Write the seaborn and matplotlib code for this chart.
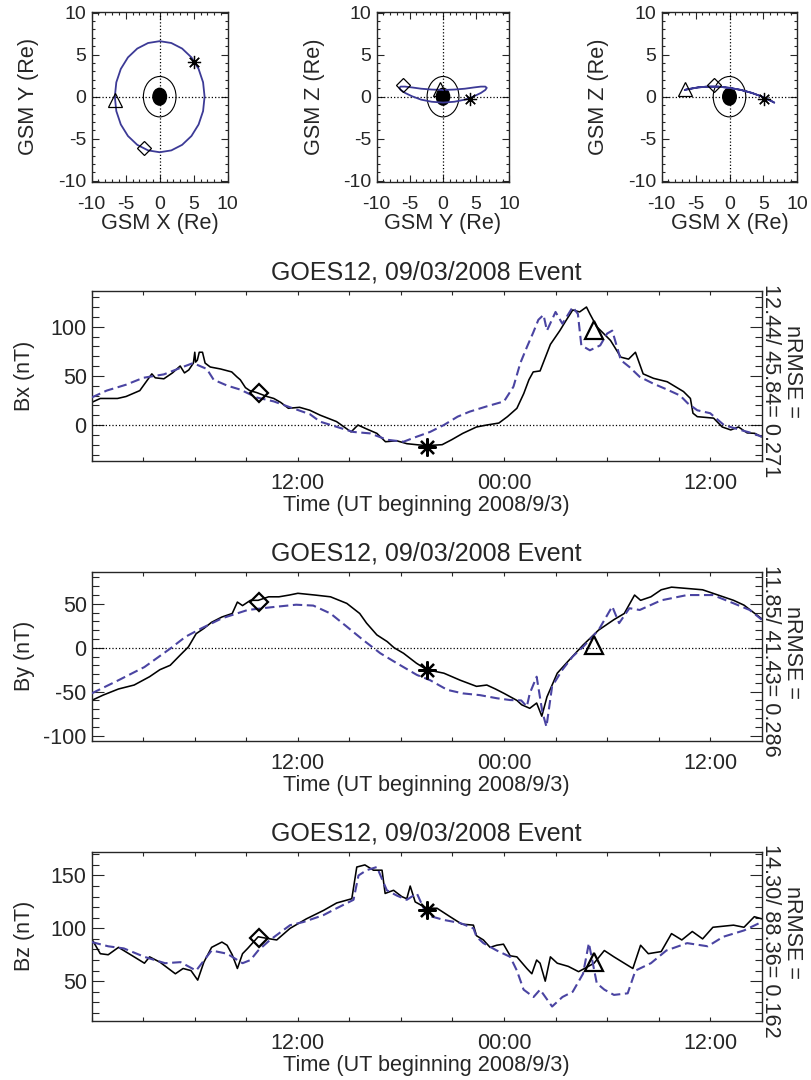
import matplotlib
matplotlib.use("Agg")
import matplotlib.pyplot as plt
from matplotlib.patches import Ellipse
from matplotlib.ticker import FixedLocator, MultipleLocator, FixedFormatter
import seaborn as sns

# ---------------- data ----------------
# GOES-12 orbit (GSM, Re), one loop
orbit_x = [-6.60, -6.38, -5.72, -4.67, -3.30, -1.71, 0.00, 1.71, 3.30, 4.67, 5.72, 6.38, 6.60,
           6.38, 5.72, 4.67, 3.30, 1.71, 0.00, -1.71, -3.30, -4.67, -5.72, -6.38, -6.60]
orbit_y = [0.00, -1.71, -3.30, -4.67, -5.72, -6.38, -6.60, -6.38, -5.72, -4.67, -3.30, -1.71, 0.00,
           1.71, 3.30, 4.67, 5.72, 6.38, 6.60, 6.38, 5.72, 4.67, 3.30, 1.71, 0.00]
orbit_z = [0.80, 0.85, 0.95, 1.10, 1.20, 1.20, 1.05, 0.80, 0.45, 0.05, -0.35, -0.60, -0.70,
           -0.60, -0.35, 0.05, 0.45, 0.80, 1.05, 1.20, 1.20, 1.10, 0.95, 0.85, 0.80]
earth_radius = 1.0
ring_radius = 2.4

# marker positions (diamond, asterisk, triangle)
mark_x = [-2.35, 5.1, -6.5]
mark_y = [-6.1, 4.1, -0.4]
mark_z = [1.4, -0.25, 0.9]
mark_t = [9.75, 19.5, 29.25]

# Bx
bx_obs_t = [0, 0.5, 1.5, 2.0, 2.8, 3.5, 3.7, 4.2, 4.7, 5.15, 5.4, 5.65, 5.92, 6.0, 6.05, 6.15, 6.26,
            6.45, 6.6, 6.9, 7.5, 8.15, 8.45, 8.65, 8.95, 9.2, 9.6, 10.2, 10.6, 11.0, 11.45, 12.1,
            12.7, 13.3, 14.25, 15.1, 15.5, 16.0, 16.6, 17.1, 17.75, 18.35, 18.9, 19.5, 20.4, 20.95,
            21.6, 22.4, 23.0, 23.7, 24.2, 24.75, 25.15, 25.45, 25.7, 26.1, 26.7, 27.25, 27.6, 28.0,
            28.4, 28.8, 29.0, 29.4, 30.2, 30.8, 31.25, 31.65, 32.1, 32.7, 33.5, 34.45, 34.85, 35.0,
            35.25, 36.2, 36.7, 37.2, 37.65, 38.15, 38.6, 39.0]
bx_obs = [23, 27, 27, 29, 35, 52, 48, 47, 53, 60, 53, 56, 63, 74, 64, 66, 74,
          74, 63, 59, 57, 54, 49, 46, 38, 35, 33, 29, 27, 23, 17, 18,
          15, 10, 3.5, -7, 0, -4, -8.5, -17, -16, -19, -20, -21, -20, -15,
          -8.5, -2, 0, 2, 8.5, 17, 32, 46, 54, 55, 82, 96, 106, 117,
          115, 120, 113, 100, 86, 69, 67, 74, 52, 47.5, 44, 34, 27, 12,
          8.5, 7, -2, -5, -2, -8, -8.5, -12]
bx_mod_t = [0, 0.87, 2.0, 3.0, 4.2, 5.15, 5.9, 6.7, 7.1, 7.9, 8.65, 9.6, 10.6, 11.55, 12.7, 13.3,
            15.2, 16.2, 17.2, 18.15, 18.9, 19.7, 20.5, 21.3, 22.0, 23.0, 24.0, 24.55, 24.95, 25.35,
            25.7, 26.0, 26.3, 26.5, 27.0, 27.4, 28.0, 28.3, 28.5, 29.0, 29.6, 30.0, 30.3, 30.8,
            31.3, 31.9, 32.7, 33.5, 34.25, 34.7, 35.25, 36.0, 36.8, 37.75, 38.5, 39.0]
bx_mod = [28, 35, 41, 48, 51.5, 58, 63, 57, 46, 40, 36, 28, 24, 18, 11, 3.4,
          -7, -8.5, -15, -17, -12, -7, 0, 8.5, 13.6, 19, 24, 39, 63, 80,
          94, 107, 112, 96, 115, 103, 120, 113, 81, 76, 81, 93, 96, 66,
          59, 49, 42, 36, 30, 22, 15, 12, 0, -5, -8.5, -12]
bx_marks = [33, -22, 97]

# By
by_obs_t = [0, 0.66, 1.56, 2.47, 3.37, 3.97, 4.57, 5.17, 5.63, 6.08, 6.53, 6.98, 7.58, 8.18, 8.48,
            8.78, 9.24, 9.69, 10.3, 10.9, 11.5, 12.0, 12.5, 13.0, 13.9, 14.85, 15.6, 16.0, 16.6,
            17.2, 17.6, 18.15, 18.9, 19.5, 20.5, 21.45, 22.4, 23.0, 23.5, 24.0, 24.75, 25.03, 25.5,
            25.9, 26.2, 26.5, 27.1, 27.7, 28.6, 29.5, 30.4, 31.0, 31.6, 31.95, 32.55, 33.15, 33.75,
            34.66, 35.56, 36.46, 37.36, 37.97, 39.0]
by_obs = [-60, -54, -47, -42.5, -33, -25, -20, -8, 1, 16, 22, 29, 35, 39, 52,
          48, 54, 54, 58, 58, 60, 62, 61, 60, 58, 50.5, 39, 28, 14.6,
          7, 0, -6.3, -17.6, -25, -29, -37, -44, -42.5, -47, -52, -60, -65, -69,
          -63, -78, -56, -29, -16, 3, 20, 32, 39, 60, 54, 58, 66, 69,
          67.5, 66, 60, 54, 48.5, 33]
by_mod_t = [0, 1.56, 3.07, 4.57, 5.47, 6.38, 7.58, 9.08, 10.4, 11.9, 12.9, 13.9, 14.85, 15.8, 16.8,
            17.76, 18.93, 19.7, 20.7, 21.6, 22.6, 23.6, 24.36, 25.0, 25.33, 25.5, 25.9, 26.23,
            26.47, 26.8, 27.4, 28.0, 28.6, 29.5, 30.3, 30.7, 31.3, 31.9, 33.15, 34.66, 36.16,
            37.36, 38.3, 39.0]
by_mod = [-52, -37, -22, -1, 12.6, 22, 33.5, 43, 46, 49, 48, 39, 24, 8.8, -6.3,
          -17.6, -31, -37, -48, -52, -54, -57.6, -59.6, -60, -67, -52, -33, -73,
          -90, -44, -25, -10, 1, 20, 47, 28, 45, 43, 54, 60, 60,
          50.6, 43, 32]
by_marks = [52.4, -25, 3]

# Bz
bz_obs_t = [0, 0.5, 0.96, 1.56, 2.47, 3.07, 3.37, 3.97, 4.87, 5.32, 5.78, 6.17, 6.53, 6.98, 7.58,
            7.88, 8.18, 8.48, 8.78, 9.08, 9.69, 10.38, 10.77, 11.55, 12.5, 13.5, 14.26, 15.14,
            15.43, 15.9, 16.4, 16.9, 17.08, 17.57, 18.05, 18.34, 18.54, 18.83, 19.5, 20.1, 20.86,
            21.54, 22.22, 22.4, 22.8, 23.19, 23.58, 23.97, 24.36, 24.75, 25.33, 25.62, 25.9, 26.1,
            26.4, 26.7, 27.1, 27.74, 28.34, 28.8, 29.24, 29.84, 30.4, 31.0, 31.5, 31.95, 32.4,
            33.15, 33.75, 34.35, 34.96, 35.56, 36.16, 37.36, 37.97, 38.57, 39.0]
bz_obs = [90, 76, 75, 82, 73, 67, 73, 68, 57, 62, 60, 51, 68, 82, 87,
          84, 75, 62, 76, 81, 92, 90, 89, 100, 109, 117, 124, 128,
          158, 160, 155, 155, 133, 136, 130, 128, 140, 125, 119, 119, 111,
          104, 103, 93, 89, 82, 84, 85, 74, 73, 62, 57, 70, 67,
          50, 73, 67, 64, 59, 63, 67, 79, 73, 67, 62, 84, 76,
          78, 95, 89, 97, 90, 101, 103, 101, 111, 109]
bz_mod_t = [0, 0.96, 1.87, 3.07, 4.27, 5.17, 6.08, 6.98, 7.88, 8.78, 9.24, 9.69, 10.38, 11.55,
            12.33, 13.49, 14.26, 15.24, 15.53, 16.0, 16.6, 17.18, 17.76, 18.34, 18.93, 19.5,
            20.48, 21.45, 22.22, 22.4, 22.8, 23.58, 24.36, 24.75, 25.14, 25.72, 26.1, 26.8, 27.4,
            28.0, 28.6, 28.94, 29.4, 29.84, 30.4, 31.2, 31.65, 32.55, 33.45, 34.66, 35.86, 36.76,
            37.97, 39.0]
bz_mod = [87, 83, 81, 73, 67, 68, 60, 79, 76, 67, 70, 79, 89, 103,
          106, 112.5, 119, 127, 150, 155, 158, 136, 131, 127, 133, 112.5,
          108, 105, 100, 92, 86, 79, 73, 60, 42, 35, 42, 26, 35,
          40, 57, 86, 48, 42, 37, 38.5, 60, 67, 79, 86, 83, 92,
          98, 106]
bz_marks = [90.5, 117, 68]

titles = ["GOES12, 09/03/2008 Event"] * 3
ylabels = ["Bx (nT)", "By (nT)", "Bz (nT)"]
rmse_lines = ["12.44/ 45.84= 0.271", "11.85/ 41.43= 0.286", "14.30/ 88.36= 0.162"]
time_tick_pos = [12, 24, 36]
time_tick_lab = ["12:00", "00:00", "12:00"]

# ---------------- style ----------------
sns.set_style("ticks")
plt.rcParams['font.family'] = ['Liberation Sans', 'DejaVu Sans']
plt.rcParams['axes.unicode_minus'] = False
plt.rcParams['axes.linewidth'] = 1.0

BLUE = "#4a44a2"
ORBIT = "#3c3a96"
W, H = 811, 1080
fig = plt.figure(figsize=(W / 100, H / 100), dpi=100)


def px_axes(x0, y0, x1, y1):
    return fig.add_axes([x0 / W, 1 - y1 / H, (x1 - x0) / W, (y1 - y0) / H])


marker_styles = ['D', (8, 2, 0), '^']

# ---------------- orbit panels ----------------
top_specs = [((91.7, 11.7, 227.7, 181.7), orbit_x, orbit_y, mark_x, mark_y, "GSM X (Re)", "GSM Y (Re)"),
             ((376.7, 11.7, 509.3, 181.7), orbit_y, orbit_z, mark_y, mark_z, "GSM Y (Re)", "GSM Z (Re)"),
             ((661.7, 11.7, 797.3, 181.7), orbit_x, orbit_z, mark_x, mark_z, "GSM X (Re)", "GSM Z (Re)")]
top_sizes = [6.8, 9.5, 10]
for box, ox, oy, mx, my, xl, yl in top_specs:
    ax = px_axes(*box)
    ax.axhline(0, color='k', ls=':', lw=0.9, zorder=1)
    ax.axvline(0, color='k', ls=':', lw=0.9, zorder=1)
    ax.add_patch(Ellipse((0, 0), 2 * ring_radius, 2 * ring_radius, fill=False, ec='k', lw=0.8, zorder=2))
    ax.add_patch(Ellipse((0, 0), 2 * earth_radius, 2 * earth_radius, color='k', zorder=2))
    sns.lineplot(x=ox, y=oy, sort=False, estimator=None, ax=ax, color=ORBIT, lw=1.3, zorder=3)
    for i in range(3):
        ax.plot(mx[i], my[i], marker=marker_styles[i], ms=top_sizes[i], mfc='none', mec='k',
                mew=0.9, ls='none', zorder=4)
    ax.set_xlim(-10, 10)
    ax.set_ylim(-10.1, 10.1)
    ax.xaxis.set_major_locator(FixedLocator([-10, -5, 0, 5, 10]))
    ax.yaxis.set_major_locator(FixedLocator([-10, -5, 0, 5, 10]))
    ax.xaxis.set_minor_locator(MultipleLocator(1))
    ax.yaxis.set_minor_locator(MultipleLocator(1))
    ax.tick_params(which='both', direction='in', top=True, right=True, labelsize=14, width=0.8)
    ax.tick_params(which='major', length=5)
    ax.tick_params(which='minor', length=2.5)
    ax.tick_params(axis='x', pad=10)
    ax.tick_params(axis='y', pad=4)
    ax.set_xlabel(xl, fontsize=15.6)
    ax.set_ylabel(yl, fontsize=15.6)
    ax.xaxis.set_label_coords(0.5, -0.182)
    ax.yaxis.set_label_coords(-0.39, 0.5)

# ---------------- time series panels ----------------
ts_specs = [((91.7, 291, 761.7, 461), bx_obs_t, bx_obs, bx_mod_t, bx_mod, bx_marks, (-36.6, 136.3), [0, 50, 100]),
            ((91.7, 571.7, 761.7, 740.7), by_obs_t, by_obs, by_mod_t, by_mod, by_marks, (-105.9, 86.6), [-100, -50, 0, 50]),
            ((91.7, 851.7, 761.7, 1020.7), bz_obs_t, bz_obs, bz_mod_t, bz_mod, bz_marks, (12.6, 172.5), [50, 100, 150])]
ts_sizes = [9.2, 13, 13]
for k, (box, ot, ov, mt, mv, marks, ylim, yticks) in enumerate(ts_specs):
    ax = px_axes(*box)
    ax.axhline(0, color='k', ls=':', lw=0.9, zorder=1)
    sns.lineplot(x=ot, y=ov, sort=False, estimator=None, ax=ax, color='k', lw=1.15, zorder=2)
    sns.lineplot(x=mt, y=mv, sort=False, estimator=None, ax=ax, color=BLUE, lw=1.5,
                 linestyle=(0, (4.5, 2.2)), zorder=3)
    for i in range(3):
        ax.plot(mark_t[i], marks[i], marker=marker_styles[i], ms=ts_sizes[i], mfc='none', mec='k',
                mew=1.6, ls='none', zorder=4)
    ax.set_xlim(0, 39)
    ax.set_ylim(*ylim)
    ax.xaxis.set_major_locator(FixedLocator(time_tick_pos))
    ax.xaxis.set_major_formatter(FixedFormatter(time_tick_lab))
    ax.xaxis.set_minor_locator(MultipleLocator(3))
    ax.yaxis.set_major_locator(FixedLocator(yticks))
    ax.yaxis.set_minor_locator(MultipleLocator(10))
    ax.tick_params(which='both', direction='in', top=True, right=True, labelsize=15.5, width=0.8)
    ax.tick_params(axis='x', which='both', length=3, pad=8.5)
    ax.tick_params(axis='y', which='major', length=8.4, pad=3.6)
    ax.tick_params(axis='y', which='minor', length=4.8)
    ax.set_title(titles[k], fontsize=18, pad=8)
    ax.set_xlabel("Time (UT beginning 2008/9/3)", fontsize=15.6)
    ax.set_ylabel(ylabels[k], fontsize=15.5)
    ax.xaxis.set_label_coords(0.5, -0.2)
    ax.yaxis.set_label_coords(-0.085, 0.5)
    ax.text(1.0295, 0.471, "nRMSE =   \n" + rmse_lines[k], rotation=-90, transform=ax.transAxes,
            ha='center', va='center', multialignment='center', linespacing=1.05, fontsize=15.6)

fig.savefig("out.png", dpi=100)
